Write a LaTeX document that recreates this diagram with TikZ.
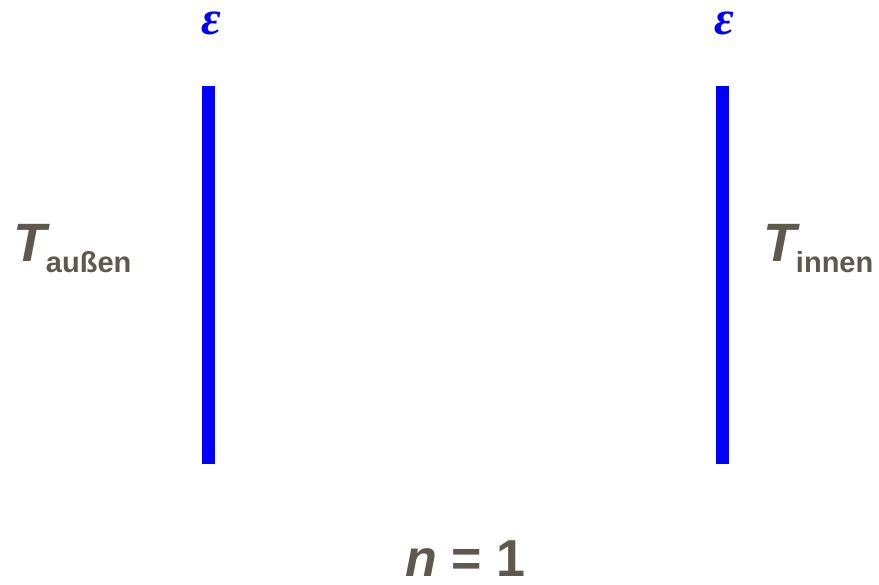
\documentclass[tikz,border=0pt]{standalone}
\usepackage{fontspec}
\setmainfont{Liberation Sans}
\newfontfamily\epsfont{Liberation Serif}
\usepackage{tikz}
\usetikzlibrary{positioning}
\definecolor{wallc}{HTML}{0000FF}
\definecolor{labelc}{HTML}{5F584C}
\tikzset{
  wall/.style={draw=wallc,line width=13pt},
  emis/.style={text=wallc,inner sep=0pt,font=\fontsize{48}{52}\epsfont\bfseries\itshape},
  temp/.style={text=labelc,inner sep=0pt,anchor=base west,font=\fontsize{54}{60}\selectfont\bfseries},
  caption/.style={text=labelc,inner sep=0pt,anchor=base,font=\fontsize{52}{60}\selectfont\bfseries},
}
\newcommand{\tsub}[1]{\kern-4pt\raisebox{-11pt}{\fontsize{29}{32}\selectfont #1}}
\begin{document}
\begin{tikzpicture}[x=1pt,y=-1pt]
  \useasboundingbox (0,0) rectangle (879,585);
  % the two walls
  \coordinate (lt) at (208.5,86);  \coordinate (lb) at (208.5,464);
  \coordinate (rt) at (722,86);    \coordinate (rb) at (722,464);
  \draw[wall] (lt) -- (lb);
  \draw[wall] (rt) -- (rb);
  % emissivities
  \node[emis](el) at (211,23){ε};
  \node[emis](er) at (724,23){ε};
  % temperatures
  \node[temp](tout) at (13,262){\textit{T}\tsub{außen}};
  \node[temp](tin) at (763,262){\textit{T}\tsub{innen}};
  % number of walls
  \node[caption](cnt) at (465,576){\textit{n} = 1};
\end{tikzpicture}
\end{document}
